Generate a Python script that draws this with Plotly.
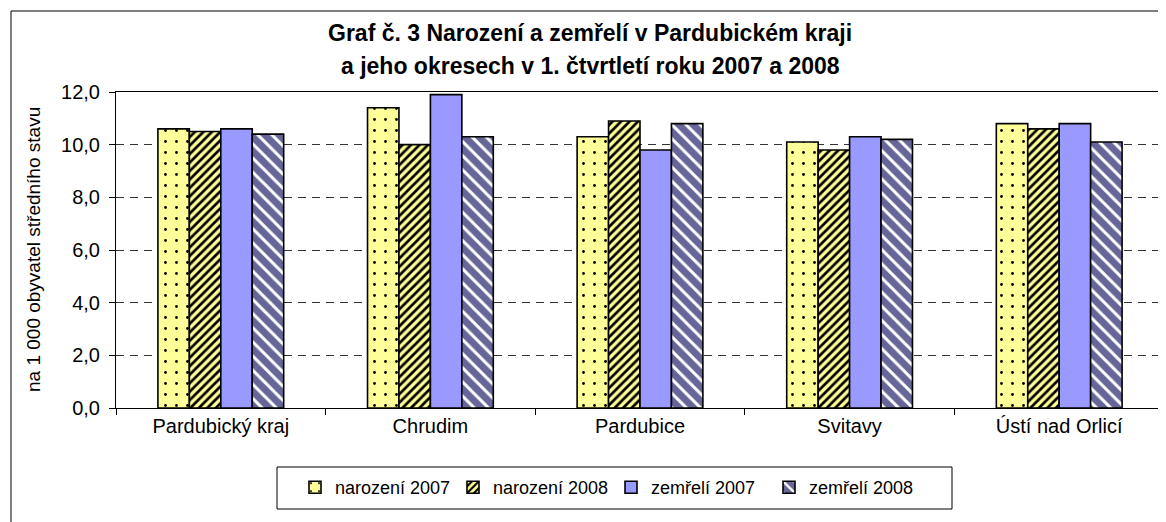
import plotly.graph_objects as go

categories = ["Pardubický kraj", "Chrudim", "Pardubice", "Svitavy", "Ústí nad Orlicí"]
narozeni_2007 = [10.6, 11.4, 10.3, 10.1, 10.8]
narozeni_2008 = [10.5, 10.0, 10.9, 9.8, 10.6]
zemreli_2007 = [10.6, 11.9, 9.8, 10.3, 10.8]
zemreli_2008 = [10.4, 10.3, 10.8, 10.2, 10.1]
series_names = ["narození 2007", "narození 2008", "zemřelí 2007", "zemřelí 2008"]
y_ticks = [0, 2, 4, 6, 8, 10, 12]

FONT = "Liberation Sans, Arial, sans-serif"
OFF = 8  # page body margin
W, H = 1166 - OFF, 522 - OFF
# plot area in page pixels: x 116..1164, y 92..408
L = 116 - OFF
T = 92 - OFF
R = W - (1164 - OFF)
B = H - (408 - OFF)
PW, PH = W - L - R, H - T - B

styles = [
    dict(bgcolor="#FFFF99", fgcolor="#000000", shape=".", size=11, solidity=0.05),
    dict(bgcolor="#FFFF99", fgcolor="#000000", shape="/", size=6, solidity=0.45),
    None,
    dict(bgcolor="#666699", fgcolor="#FFFFFF", shape="\\", size=10, solidity=0.3),
]
colors = ["#FFFF99", "#FFFF99", "#9999FF", "#666699"]
values = [narozeni_2007, narozeni_2008, zemreli_2007, zemreli_2008]

fig = go.Figure()
for name, vals, col, st in zip(series_names, values, colors, styles):
    marker = dict(color=col, line=dict(color="#000000", width=1.6))
    if st is not None:
        marker["pattern"] = dict(fillmode="replace", **st)
    fig.add_trace(go.Bar(x=categories, y=vals, name=name, marker=marker))

def px_x(px):
    return (px - OFF - L) / PW

def px_y(py):
    return (H - B - (py - OFF)) / PH

fig.update_layout(
    width=W, height=H,
    margin=dict(l=L, r=R, t=T, b=B, autoexpand=False),
    paper_bgcolor="white", plot_bgcolor="white",
    font=dict(family=FONT, size=15, color="#000000"),
    barmode="group", bargap=0.4, bargroupgap=0,
    separators=", ",
    showlegend=True,
    legend=dict(
        orientation="h", x=px_x(295), xanchor="left", y=px_y(469), yanchor="top",
        borderwidth=0, bgcolor="rgba(0,0,0,0)",
        font=dict(family=FONT, size=18), traceorder="normal",
        itemwidth=30, entrywidth=113,
    ),
    shapes=[
        dict(type="rect", xref="paper", yref="paper",
             x0=px_x(11), x1=px_x(1180), y0=px_y(540), y1=px_y(11),
             line=dict(color="#000000", width=1), layer="below"),
        dict(type="rect", xref="paper", yref="paper",
             x0=px_x(277), x1=px_x(952), y0=px_y(509), y1=px_y(467),
             line=dict(color="#000000", width=1), layer="below"),
    ],
    annotations=[
        dict(text="<b>Graf č. 3 Narození a zemřelí v Pardubickém kraji</b>", xref="paper", yref="paper",
             x=px_x(590), y=px_y(33), xanchor="center", yanchor="middle", showarrow=False,
             font=dict(family=FONT, size=23)),
        dict(text="<b>a jeho okresech v 1. čtvrtletí roku 2007 a 2008</b>", xref="paper", yref="paper",
             x=px_x(590), y=px_y(66), xanchor="center", yanchor="middle", showarrow=False,
             font=dict(family=FONT, size=23)),
        dict(text="na 1 000 obyvatel středního stavu", xref="paper", yref="paper",
             x=px_x(33), y=px_y(250), xanchor="center", yanchor="middle", showarrow=False,
             textangle=-90, font=dict(family=FONT, size=19)),
    ],
)
fig.update_xaxes(
    showline=True, linecolor="#000000", linewidth=1, mirror=True,
    ticks="outside", tickson="boundaries", ticklen=6, tickcolor="#000000",
    tickfont=dict(size=20), showgrid=False, automargin=False,
)
fig.update_yaxes(
    range=[0, 12], tickvals=y_ticks, tickformat=".1f",
    showline=True, linecolor="#000000", linewidth=1, mirror=True,
    ticks="outside", ticklen=6, tickcolor="#000000", tickfont=dict(size=20),
    ticklabelstandoff=5,
    showgrid=True, gridcolor="#333333", gridwidth=1, griddash="8px,6px",
    zeroline=False, automargin=False,
)
fig.write_html("out.html")
